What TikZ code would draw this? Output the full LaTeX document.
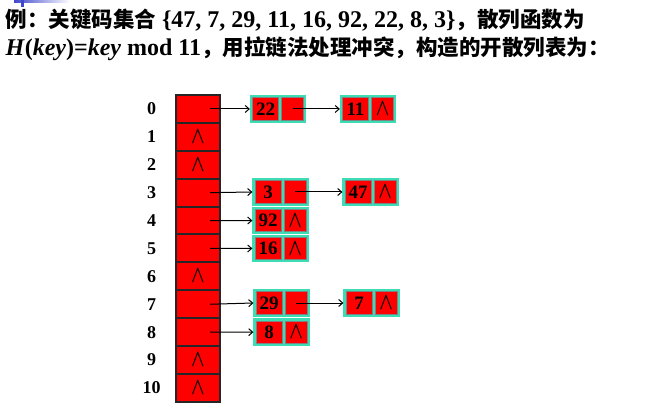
\documentclass[tikz,border=0pt]{standalone}
\usepackage{fontspec}
\setmainfont{Liberation Serif}
\newfontfamily\zh{Noto Sans CJK SC}
\usetikzlibrary{arrows.meta, positioning, fit, backgrounds}
\definecolor{chainedge}{HTML}{3CDCB4}
\definecolor{slideblue}{HTML}{3F48CC}
\newcommand{\nullmark}{\scalebox{0.85}[1.15]{\fontsize{22}{22}\selectfont\boldmath$\wedge$}}
\newcommand{\zhtext}[1]{{\zh\fontsize{21.5}{21.5}\selectfont #1}}

\begin{document}
\begin{tikzpicture}[x=1pt, y=-1pt, >={Straight Barb[length=4pt,width=7pt]}, line width=1pt,
  slot/.style={rectangle, draw=black!85, line width=2pt, fill=red, minimum width=44pt,
    minimum height=27.9pt, inner sep=0pt, outer sep=0pt},
  idx/.style={minimum width=20pt, inner sep=0pt, font=\fontsize{18}{18}\selectfont\bfseries},
  key/.style={rectangle, draw=gray, line width=0.8pt, fill=red, minimum width=26pt,
    minimum height=22.5pt, inner sep=0pt, font=\fontsize{19}{19}\selectfont\bfseries},
  link/.style={key, minimum width=22pt},
  frame/.style={draw=chainedge, fill=chainedge, line width=1.2pt, inner sep=1.6pt},
  title/.style={anchor=base west, inner sep=0pt, font=\fontsize{24}{24}\selectfont\bfseries}]
  \useasboundingbox (0,0) rectangle (648,414);

  % slide decoration
  \shade[left color=slideblue, right color=white] (14,0) rectangle (70,3);
  \fill[slideblue] (21,0) rectangle (24,7);

  % heading
  \node[title] (line1) at (5,28) {\zhtext{例：关键码集合} \{47, 7, 29, 11, 16, 92, 22, 8, 3\}\zhtext{，散列函数为}};
  \node[title] (line2) at (5,56) {\textit{H}(\textit{key})=\textit{key} mod 11\zhtext{，用拉链法处理冲突，构造的开散列表为：}};

  % hash table
  \node[slot] (t0) at (198,108.95) {};
  \node[slot, below=0pt of t0] (t1) {\nullmark};
  \node[slot, below=0pt of t1] (t2) {\nullmark};
  \node[slot, below=0pt of t2] (t3) {};
  \node[slot, below=0pt of t3] (t4) {};
  \node[slot, below=0pt of t4] (t5) {};
  \node[slot, below=0pt of t5] (t6) {\nullmark};
  \node[slot, below=0pt of t6] (t7) {};
  \node[slot, below=0pt of t7] (t8) {};
  \node[slot, below=0pt of t8] (t9) {\nullmark};
  \node[slot, below=0pt of t9] (t10) {\nullmark};

  \node[idx, left=14pt of t0] (i0) {0};
  \node[idx, left=14pt of t1] (i1) {1};
  \node[idx, left=14pt of t2] (i2) {2};
  \node[idx, left=14pt of t3] (i3) {3};
  \node[idx, left=14pt of t4] (i4) {4};
  \node[idx, left=14pt of t5] (i5) {5};
  \node[idx, left=14pt of t6] (i6) {6};
  \node[idx, left=14pt of t7] (i7) {7};
  \node[idx, left=14pt of t8] (i8) {8};
  \node[idx, left=14pt of t9] (i9) {9};
  \node[idx, left=14pt of t10] (i10) {10};

  % chains
  \node[key] (k22) at (265.5,108.95) {22};
  \node[link, right=2.4pt of k22] (p22) {};
  \node[key] (k11) at (355.5,108.95) {11};
  \node[link, right=2.4pt of k11] (p11) {\nullmark};
  \node[key] (k3) at (268,192) {3};
  \node[link, right=2.4pt of k3] (p3) {};
  \node[key] (k47) at (358,192) {47};
  \node[link, right=2.4pt of k47] (p47) {\nullmark};
  \node[key] (k92) at (268,220.55) {92};
  \node[link, right=2.4pt of k92] (p92) {\nullmark};
  \node[key] (k16) at (268,248.45) {16};
  \node[link, right=2.4pt of k16] (p16) {\nullmark};
  \node[key] (k29) at (269,303) {29};
  \node[link, right=2.4pt of k29] (p29) {};
  \node[key] (k7) at (359,303) {7};
  \node[link, right=2.4pt of k7] (p7) {\nullmark};
  \node[key] (k8) at (269,332.15) {8};
  \node[link, right=2.4pt of k8] (p8) {\nullmark};

  \begin{scope}[on background layer]
    \node[frame, fit=(k22)(p22)] (c22) {};
    \node[frame, fit=(k11)(p11)] (c11) {};
    \node[frame, fit=(k3)(p3)] (c3) {};
    \node[frame, fit=(k47)(p47)] (c47) {};
    \node[frame, fit=(k92)(p92)] (c92) {};
    \node[frame, fit=(k16)(p16)] (c16) {};
    \node[frame, fit=(k29)(p29)] (c29) {};
    \node[frame, fit=(k7)(p7)] (c7) {};
    \node[frame, fit=(k8)(p8)] (c8) {};
  \end{scope}

  \draw[->] ([xshift=12pt]t0.center) -- (c22.west);
  \draw[->] ([xshift=12pt]t3.center) -- (c3.west);
  \draw[->] ([xshift=12pt]t4.center) -- (c92.west);
  \draw[->] ([xshift=12pt]t5.center) -- (c16.west);
  \draw[->] ([xshift=12pt]t7.center) -- (c29.west);
  \draw[->] ([xshift=12pt]t8.center) -- (c8.west);
  \draw[->] (p22.center) -- (c11.west);
  \draw[->] (p3.center) -- (c47.west);
  \draw[->] (p29.center) -- (c7.west);
\end{tikzpicture}
\end{document}
